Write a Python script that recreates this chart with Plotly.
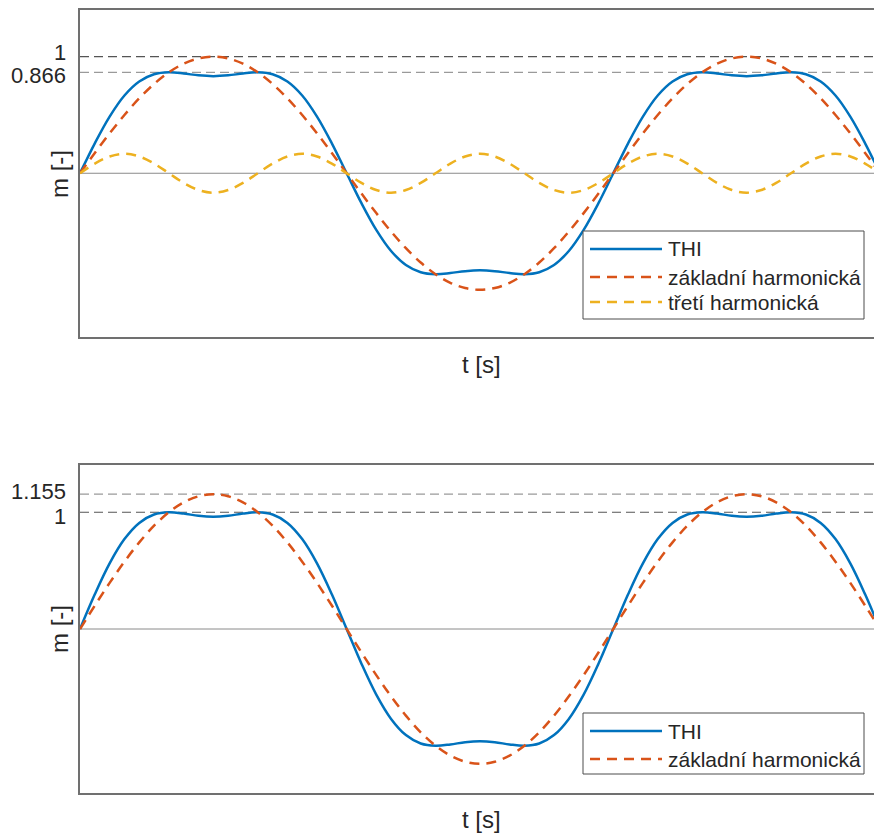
import plotly.graph_objects as go

# Phase of the fundamental in degrees (the time axis carries no tick labels)
angle_deg = list(range(0, 541, 10))

# Upper panel: fundamental, third harmonic (1/6 amplitude) and their sum (THI)
top_thi = [0, 0.257, 0.486, 0.667, 0.787, 0.849, 0.866, 0.856, 0.840, 0.833, 0.840, 0.856, 0.866, 0.849, 0.787, 0.667, 0.486, 0.257, 0,
           -0.257, -0.486, -0.667, -0.787, -0.849, -0.866, -0.856, -0.840, -0.833, -0.840, -0.856, -0.866, -0.849, -0.787, -0.667, -0.486, -0.257, 0,
           0.257, 0.486, 0.667, 0.787, 0.849, 0.866, 0.856, 0.840, 0.833, 0.840, 0.856, 0.866, 0.849, 0.787, 0.667, 0.486, 0.257, 0]
top_fund = [0, 0.174, 0.342, 0.5, 0.643, 0.766, 0.866, 0.940, 0.985, 1.0, 0.985, 0.940, 0.866, 0.766, 0.643, 0.5, 0.342, 0.174, 0,
            -0.174, -0.342, -0.5, -0.643, -0.766, -0.866, -0.940, -0.985, -1.0, -0.985, -0.940, -0.866, -0.766, -0.643, -0.5, -0.342, -0.174, 0,
            0.174, 0.342, 0.5, 0.643, 0.766, 0.866, 0.940, 0.985, 1.0, 0.985, 0.940, 0.866, 0.766, 0.643, 0.5, 0.342, 0.174, 0]
top_third = [0, 0.083, 0.144, 0.167, 0.144, 0.083, 0, -0.083, -0.144, -0.167, -0.144, -0.083, 0, 0.083, 0.144, 0.167, 0.144, 0.083, 0,
             -0.083, -0.144, -0.167, -0.144, -0.083, 0, 0.083, 0.144, 0.167, 0.144, 0.083, 0, -0.083, -0.144, -0.167, -0.144, -0.083, 0,
             0.083, 0.144, 0.167, 0.144, 0.083, 0, -0.083, -0.144, -0.167, -0.144, -0.083, 0, 0.083, 0.144, 0.167, 0.144, 0.083, 0]

# Lower panel: THI normalised to unit peak and the matching fundamental
bot_thi = [0, 0.297, 0.562, 0.770, 0.909, 0.981, 1.0, 0.989, 0.970, 0.962, 0.970, 0.989, 1.0, 0.981, 0.909, 0.770, 0.562, 0.297, 0,
           -0.297, -0.562, -0.770, -0.909, -0.981, -1.0, -0.989, -0.970, -0.962, -0.970, -0.989, -1.0, -0.981, -0.909, -0.770, -0.562, -0.297, 0,
           0.297, 0.562, 0.770, 0.909, 0.981, 1.0, 0.989, 0.970, 0.962, 0.970, 0.989, 1.0, 0.981, 0.909, 0.770, 0.562, 0.297, 0]
bot_fund = [0, 0.201, 0.395, 0.577, 0.742, 0.885, 1.0, 1.085, 1.137, 1.155, 1.137, 1.085, 1.0, 0.885, 0.742, 0.577, 0.395, 0.201, 0,
            -0.201, -0.395, -0.577, -0.742, -0.885, -1.0, -1.085, -1.137, -1.155, -1.137, -1.085, -1.0, -0.885, -0.742, -0.577, -0.395, -0.201, 0,
            0.201, 0.395, 0.577, 0.742, 0.885, 1.0, 1.085, 1.137, 1.155, 1.137, 1.085, 1.0, 0.885, 0.742, 0.577, 0.395, 0.201, 0]

top_levels = [1, 0.866]
top_level_labels = ["1", "0.866"]
bot_levels = [1.155, 1]
bot_level_labels = ["1.155", "1"]

top_names = ["THI", "základní harmonická", "třetí harmonická"]
bot_names = ["THI", "základní harmonická"]

BLUE = "#0072BD"
ORANGE = "#D95319"
YELLOW = "#EDB120"
TEXT = "#262626"
FRAME = "#707070"
FONT = "Liberation Sans, Arial, sans-serif"

W, H = 874, 833
ML = 80


def px_x(px):
    return (px - ML) / (W - ML)


def px_y(py):
    return 1 - py / H


fig = go.Figure()

styles = [dict(color=BLUE, width=2.5),
          dict(color=ORANGE, width=2.5, dash="10px,7px"),
          dict(color=YELLOW, width=2.5, dash="10px,7px")]

for ys, name, st in zip([top_thi, top_fund, top_third], top_names, styles):
    fig.add_trace(go.Scatter(x=angle_deg, y=ys, name=name, mode="lines",
                             line=dict(shape="spline", **st),
                             xaxis="x", yaxis="y", showlegend=False))
for ys, name, st in zip([bot_thi, bot_fund], bot_names, styles):
    fig.add_trace(go.Scatter(x=angle_deg, y=ys, name=name, mode="lines",
                             line=dict(shape="spline", **st),
                             xaxis="x2", yaxis="y2", showlegend=False))

shapes = []
annotations = []

# zero lines, dashed reference levels and their labels (labels nudged apart so they stay legible)
for yref, xref, levels, labels, nudges in [("y", "x", top_levels, top_level_labels, (-4, 3)),
                                           ("y2", "x2", bot_levels, bot_level_labels, (-3, 4))]:
    shapes.append(dict(type="line", xref=xref + " domain", yref=yref, x0=0, x1=1, y0=0, y1=0,
                       line=dict(color="#8a8a8a", width=1), layer="below"))
    for lv, lab, nd in zip(levels, labels, nudges):
        col = "#555555" if lv == 1 else "#9a9a9a"
        shapes.append(dict(type="line", xref=xref + " domain", yref=yref, x0=0, x1=1, y0=lv, y1=lv,
                           line=dict(color=col, width=1.2, dash="9px,5px"), layer="below"))
        annotations.append(dict(text=lab, xref=xref + " domain", yref=yref, x=0, y=lv,
                                xanchor="right", yanchor="middle", xshift=-12, yshift=-nd,
                                showarrow=False, font=dict(size=22, color=TEXT, family=FONT)))


def add_legend(box, rows, names, line_styles):
    x0, x1, y0, y1 = box
    shapes.append(dict(type="rect", xref="paper", yref="paper",
                       x0=px_x(x0), x1=px_x(x1), y0=px_y(y0), y1=px_y(y1),
                       line=dict(color="#4d4d4d", width=1), fillcolor="white", layer="above"))
    for ry, name, st in zip(rows, names, line_styles):
        shapes.append(dict(type="line", xref="paper", yref="paper",
                           x0=px_x(590), x1=px_x(662), y0=px_y(ry), y1=px_y(ry),
                           line=st, layer="above"))
        annotations.append(dict(text=name, xref="paper", yref="paper", x=px_x(666), y=px_y(ry),
                                xanchor="left", yanchor="middle", showarrow=False,
                                font=dict(size=21, color=TEXT, family=FONT)))


add_legend((583, 864, 231, 319), [249, 277, 302], top_names, styles)
add_legend((583, 864, 713, 774), [731, 759], bot_names, styles[:2])

# axis titles
for ty, xy in [(174, 364), (629, 819)]:
    annotations.append(dict(text="m [-]", xref="paper", yref="paper", x=px_x(59), y=px_y(ty),
                            xanchor="center", yanchor="middle", textangle=-90, showarrow=False,
                            font=dict(size=24, color=TEXT, family=FONT)))
    annotations.append(dict(text="t [s]", xref="paper", yref="paper", x=px_x(481), y=px_y(xy),
                            xanchor="center", yanchor="middle", showarrow=False,
                            font=dict(size=24, color=TEXT, family=FONT)))

xcommon = dict(range=[0, 536], showgrid=False, zeroline=False, showticklabels=False, ticks="",
               showline=True, linecolor=FRAME, linewidth=1.5, mirror=True)
ycommon = dict(range=[-1.405, 1.405], showgrid=False, zeroline=False, ticks="", showticklabels=False,
               showline=True, linecolor=FRAME, linewidth=1.5, mirror=False)

fig.update_layout(
    width=W, height=H,
    margin=dict(l=ML, r=0, t=0, b=0),
    paper_bgcolor="white", plot_bgcolor="white",
    xaxis=dict(domain=[0, 1], anchor="y", **xcommon),
    yaxis=dict(domain=[px_y(337), px_y(9.5)], anchor="x", **ycommon),
    xaxis2=dict(domain=[0, 1], anchor="y2", **xcommon),
    yaxis2=dict(domain=[px_y(793), px_y(465)], anchor="x2", **ycommon),
    shapes=shapes,
    annotations=annotations,
    showlegend=False,
    font=dict(family=FONT, color=TEXT),
)

fig.write_html("out.html")
